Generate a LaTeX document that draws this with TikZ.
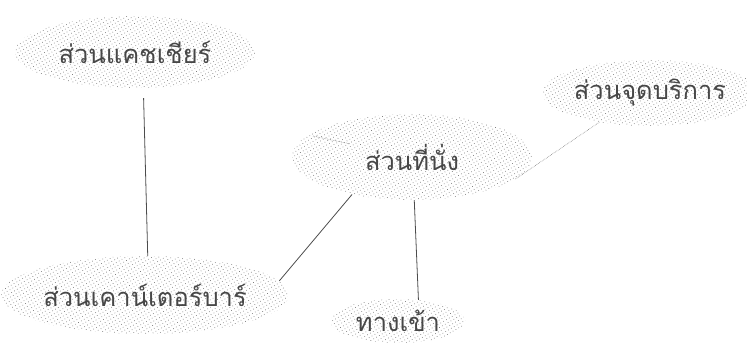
\documentclass[tikz,border=0pt]{standalone}
\usepackage{fontspec}
\newfontfamily\thaifont[Script=Thai]{Loma}
\usetikzlibrary{shapes.geometric,patterns.meta}

\tikzset{
    zone/.style={ellipse, inner sep=0pt, text=black!72,
        font=\thaifont\fontsize{25.5}{30}\selectfont,
        pattern={Dots[angle=30,distance=3.3pt,radius=0.5pt]}, pattern color=black!50},
    link/.style={draw=black!70, line width=0.8pt},
    faint/.style={draw=black!50, line width=0.6pt, densely dotted}
}

\begin{document}
\begin{tikzpicture}[x=1pt,y=-1pt]
\useasboundingbox (0,0) rectangle (747,345);

% Zones
\node[zone, minimum width=240pt, minimum height=72pt] (cashier) at (135,52) {ส่วนแคชเชียร์};
\node[zone, minimum width=190pt, minimum height=66pt] (service) at (650,93) {ส่วนจุดบริการ};
\node[zone, minimum width=240pt, minimum height=86pt] (seating) at (412,157) {ส่วนที่นั่ง};
\node[zone, minimum width=285pt, minimum height=78pt] (bar) at (145,295) {ส่วนเคาน์เตอร์บาร์};
\node[zone, minimum width=135pt, minimum height=44pt] (entrance) at (398,321) {ทางเข้า};

% Links
\draw[link, shorten <=10pt] (cashier.-77) -- (bar.86);
\draw[link] (bar.6) -- (seating.212);
\draw[link] (seating.-87) -- (entrance.46);
\draw[faint] (seating.-12) -- (service.210);

\coordinate (stub) at (313,136);
\draw[faint, shorten >=63pt] (stub) -- (seating.center);
\end{tikzpicture}
\end{document}
